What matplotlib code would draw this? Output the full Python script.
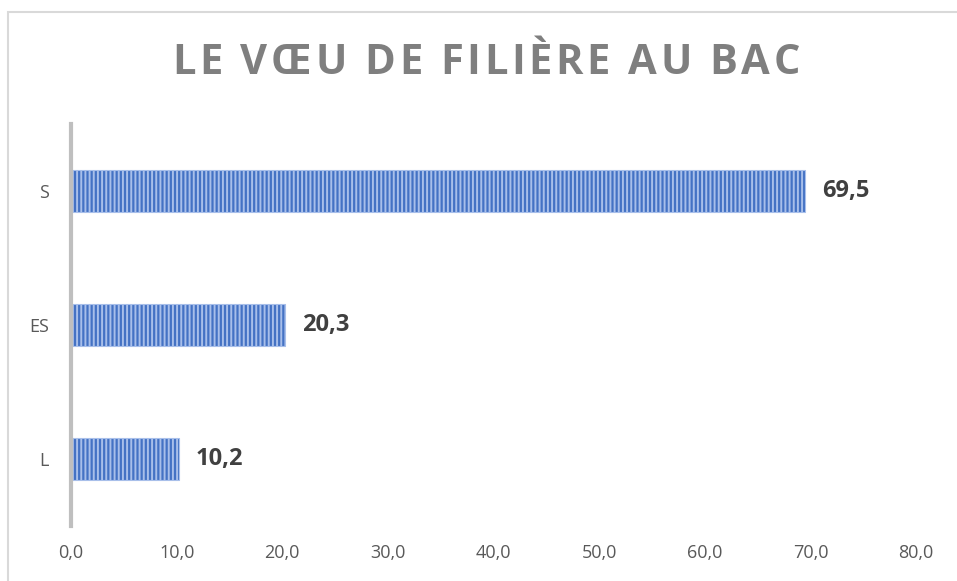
import matplotlib.pyplot as plt
from matplotlib.patches import Rectangle
from matplotlib.font_manager import FontProperties

categories = ['L', 'ES', 'S']
values = [10.2, 20.3, 69.5]
xticks = [0, 10, 20, 30, 40, 50, 60, 70, 80]
title = 'LE VŒU DE FILIÈRE AU BAC'

plt.rcParams['font.family'] = ['Open Sans', 'DejaVu Sans']
plt.rcParams['hatch.linewidth'] = 1.4

fig = plt.figure(figsize=(9.57, 5.81), dpi=100)
ax = fig.add_axes([71 / 957, 1 - 526 / 581, (916 - 71) / 957, (526 - 124) / 581])

# light frame around the chart area
fig.patches.append(Rectangle((8 / 957, -0.1), 1.2, 1 - 12 / 581 + 0.1,
                             transform=fig.transFigure, fill=False,
                             edgecolor='#d9d9d9', linewidth=1.5))

bars = ax.barh(range(len(categories)), values, height=0.31,
               color='#4472C4', edgecolor='#a8bfea', linewidth=0.8, hatch='||||')

for i, v in enumerate(values):
    ax.text(v + 1.6, i, ('%.1f' % v).replace('.', ','), va='center', ha='left',
            fontsize=17, fontweight='bold', color='#404040')

ax.set_xlim(0, 80)
ax.set_ylim(-0.5, 2.5)
ax.set_xticks(xticks)
ax.set_xticklabels([('%.1f' % t).replace('.', ',') for t in xticks])
ax.set_yticks(range(len(categories)))
ax.set_yticklabels(categories)
ax.tick_params(axis='both', length=0, labelsize=13, colors='#595959')
ax.tick_params(axis='x', pad=13)
ax.tick_params(axis='y', pad=16)

for side in ['top', 'right', 'bottom']:
    ax.spines[side].set_visible(False)
ax.spines['left'].set_color('#bfbfbf')
ax.spines['left'].set_linewidth(3)

# title with wide letter spacing: place glyphs one by one
renderer = fig.canvas.get_renderer()
prop = FontProperties(family=['Open Sans', 'DejaVu Sans'], weight='bold', size=30)
widths = [renderer.get_text_width_height_descent(c, prop, ismath=False)[0] for c in title]
x0, x1 = 172.0, 800.0
track = (x1 - x0 - sum(widths)) / (len(title) - 1)
x = x0
for c, w in zip(title, widths):
    fig.text(x / 957, 1 - 63 / 581, c, ha='left', va='center',
             fontproperties=prop, color='#7f7f7f')
    x += w + track

fig.savefig('out.png', dpi=100)
